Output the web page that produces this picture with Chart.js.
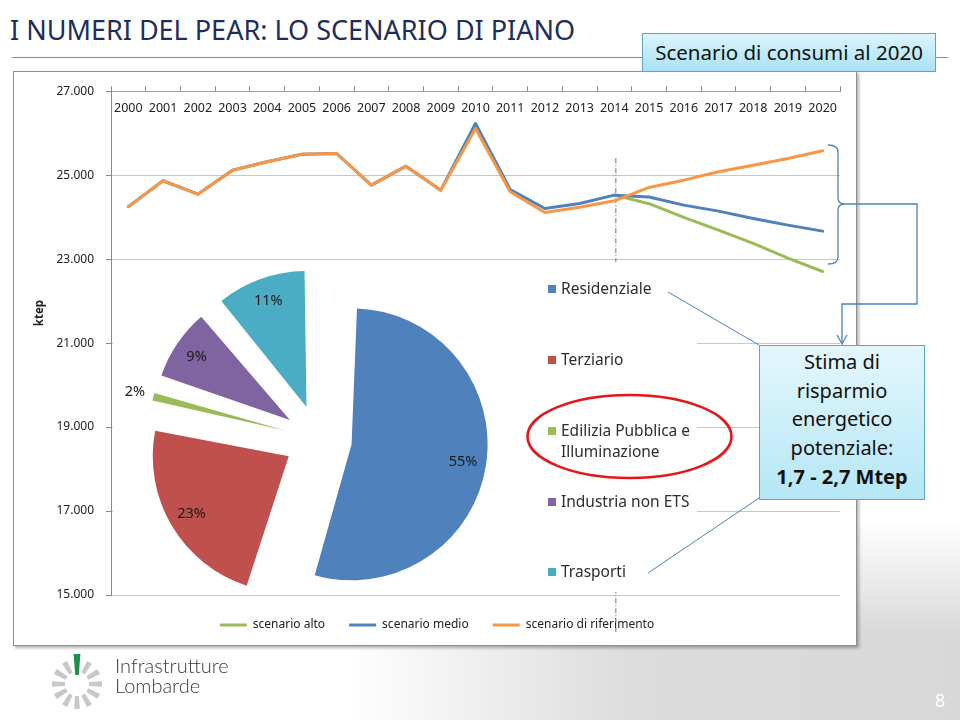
<!DOCTYPE html>
<html lang="it">
<head>
<meta charset="utf-8">
<title>I numeri del PEAR: lo scenario di piano</title>
<script src="https://cdn.jsdelivr.net/npm/chart.js@4.4.1/dist/chart.umd.min.js"></script>
<style>
  html, body { margin: 0; padding: 0; }
  body { width: 960px; height: 720px; position: relative; overflow: hidden; background: #fff; font-family: "Noto Sans", sans-serif; }
  .abs { position: absolute; }
  #footerBg { left: 0; top: 636px; width: 960px; height: 84px; background: linear-gradient(90deg, #fff 0%, #fff 36%, #dcdcdc 66%, #d8d8d8 100%); }
  #sideBg { left: 857px; top: 520px; width: 103px; height: 116px; background: linear-gradient(180deg, rgba(216,216,216,0) 0%, #d8d8d8 100%); }
  #title { left: 10px; top: 16px; font-size: 27px; line-height: 27px; color: #1f2d5a; white-space: nowrap; }
  #rule { left: 12px; top: 57px; width: 936px; height: 0; border-top: 1.5px solid #8a8a8a; }
  #chartFrame { left: 13px; top: 71px; width: 842px; height: 573px; border: 1px solid #8f8f8f; box-shadow: 2px 2px 3px rgba(0,0,0,0.3); background: #fff; }
  #lineChart { left: 14px; top: 72px; }
  #pieChart { left: 113px; top: 262px; background: #fff; }
  .pieItem { position: absolute; left: 548px; font-size: 15.5px; line-height: 21.6px; color: #2e2e2e; white-space: nowrap; }
  .pieItem .sw { position: absolute; left: 0; top: 7px; width: 8px; height: 8px; }
  .pieItem .tx { display: block; margin-left: 13px; }
  #notes { left: 0; top: 0; }
  #header { left: 642px; top: 33px; width: 292px; height: 37px; border: 1px solid #58a7c6; background: linear-gradient(180deg, #dcf5fd 0%, #a9e1f4 100%); font-size: 20.5px; line-height: 37px; text-align: center; color: #111; white-space: nowrap; }
  #callout { left: 759px; top: 345px; width: 164px; height: 151px; border: 1px solid #58a7c6; background: linear-gradient(180deg, #e4f7fd 0%, #b5e6f6 100%); font-size: 20px; line-height: 28.7px; text-align: center; color: #111; padding-top: 2px; box-sizing: content-box; }
  #callout b { font-weight: 700; }
  #logo { left: 47px; top: 654px; }
  #brand { left: 115px; top: 656px; font-family: Lato, "Noto Sans", sans-serif; font-weight: 300; font-size: 20px; line-height: 19.5px; color: #3a3a3a; }
  #pageNo { left: 935px; top: 688px; font-size: 18px; line-height: 24px; color: #fff; }
</style>
</head>
<body>
<div id="footerBg" class="abs"></div>
<div id="sideBg" class="abs"></div>
<div id="title" class="abs">I NUMERI DEL PEAR: LO SCENARIO DI PIANO</div>
<div id="rule" class="abs"></div>
<div id="chartFrame" class="abs"></div>
<canvas id="lineChart" class="abs" width="842" height="573"></canvas>
<canvas id="pieChart" class="abs" width="584" height="330"></canvas>
<div id="pieLegend"></div>

<svg id="notes" class="abs" width="960" height="720" viewBox="0 0 960 720">
  <g fill="none" stroke="#4f81bd" stroke-width="1.3">
    <!-- graffa sugli scenari 2020 -->
    <path d="M828,145 Q838,145 838,152 L838,198 Q838,204 845,204 Q838,204 838,210 L838,257 Q838,264 828,264"/>
    <polyline points="845,204 917,204 917,304 842,304 842,344"/>
    <polyline points="837,335 842,344 847,335"/>
    <!-- collegamenti alla torta -->
    <line x1="668" y1="292" x2="759" y2="345" stroke-width="1"/>
    <line x1="648" y1="573" x2="759" y2="498" stroke-width="1"/>
  </g>
  <ellipse cx="629.5" cy="436.5" rx="102" ry="41.5" fill="none" stroke="#e3171c" stroke-width="2.6"/>
</svg>

<div id="header" class="abs">Scenario di consumi al 2020</div>
<div id="callout" class="abs">Stima di<br>risparmio<br>energetico<br>potenziale:<br><b>1,7 - 2,7 Mtep</b></div>

<canvas id="logo" class="abs" width="60" height="60"></canvas>
<div id="brand" class="abs">Infrastrutture<br>Lombarde</div>
<div id="pageNo" class="abs">8</div>

<script>
// Dati scenario consumi (ktep)
const years = ['2000', '2001', '2002', '2003', '2004', '2005', '2006', '2007', '2008', '2009', '2010',
               '2011', '2012', '2013', '2014', '2015', '2016', '2017', '2018', '2019', '2020'];
const scenarioAlto = [null, null, null, null, null, null, null, null, null, null, null,
                      null, null, null, 24524, 24320, 23993, 23690, 23375, 23024, 22705];
const scenarioMedio = [24250, 24867, 24548, 25119, 25319, 25500, 25516, 24762, 25214, 24643, 26230,
                       24660, 24207, 24326, 24524, 24480, 24286, 24143, 23969, 23810, 23667];
const scenarioRiferimento = [24250, 24867, 24548, 25119, 25319, 25500, 25516, 24762, 25214, 24643, 26110,
                             24605, 24112, 24238, 24390, 24707, 24881, 25080, 25238, 25397, 25580];
const yTicks = [15000, 17000, 19000, 21000, 23000, 25000, 27000];
const markerYear = '2014';

// Ripartizione consumi per settore (%)
const pieLabels = ['Residenziale', 'Terziario', ['Edilizia Pubblica e', 'Illuminazione'], 'Industria non ETS', 'Trasporti'];
const pieShares = [55, 23, 2, 9, 11];

const colors = {
    alto: '#9bbb59',
    medio: '#4f81bd',
    riferimento: '#f79646'
};
const pieColors = ['#4f81bd', '#c0504d', '#9bbb59', '#8064a2', '#4bacc6'];

const FONT = '"Noto Sans", sans-serif';
const PIE_RADIUS = 136;
const PIE_EXPLODE = 34; // px, slice shift like the Excel exploded pie

function formatThousands(v) {
    return String(v).replace(/\B(?=(\d{3})+(?!\d))/g, '.');
}

// Year labels under the top axis, "ktep" title and the 2014 marker
const lineDecor = {
    id: 'lineDecor',
    beforeDatasetsDraw: function(chart) {
        const ctx = chart.ctx;
        const area = chart.chartArea;
        const x = chart.scales.x.getPixelForValue(years.indexOf(markerYear));
        ctx.save();
        ctx.strokeStyle = '#5a7394';
        ctx.lineWidth = 1;
        ctx.setLineDash([5, 2, 1, 2]);
        ctx.beginPath();
        ctx.moveTo(x + 1.5, area.top + 67);
        ctx.lineTo(x + 1.5, area.bottom + 37);
        ctx.stroke();
        ctx.restore();
    },
    afterDraw: function(chart) {
        const ctx = chart.ctx;
        const xs = chart.scales.x;
        const area = chart.chartArea;
        ctx.save();
        ctx.fillStyle = '#222';
        ctx.font = '12.5px ' + FONT;
        ctx.textAlign = 'center';
        ctx.textBaseline = 'middle';
        years.forEach(function(y, i) {
            ctx.fillText(y, xs.getPixelForValue(i), area.top + 17);
        });
        ctx.translate(26, 241);
        ctx.rotate(-Math.PI / 2);
        ctx.font = 'bold 11.5px ' + FONT;
        ctx.fillStyle = '#222';
        ctx.fillText('ktep', 0, 0);
        ctx.restore();
    }
};

new Chart(document.getElementById('lineChart'), {
    type: 'line',
    data: {
        labels: years,
        datasets: [
            { label: 'scenario alto', data: scenarioAlto, borderColor: colors.alto, backgroundColor: colors.alto, order: 3 },
            { label: 'scenario medio', data: scenarioMedio, borderColor: colors.medio, backgroundColor: colors.medio, order: 2 },
            { label: 'scenario di riferimento', data: scenarioRiferimento, borderColor: colors.riferimento, backgroundColor: colors.riferimento, order: 1 }
        ]
    },
    options: {
        responsive: false,
        animation: false,
        events: [],
        spanGaps: false,
        layout: { padding: { left: 20, top: 0, right: 16, bottom: 4 } },
        elements: {
            line: { borderWidth: 3, tension: 0, borderCapStyle: 'round', borderJoinStyle: 'round' },
            point: { radius: 0, hoverRadius: 0 }
        },
        scales: {
            x: {
                position: 'top',
                offset: true,
                afterFit: function(scale) { scale.height = 16; },
                grid: { display: true, drawOnChartArea: false, offset: true, tickLength: 5, color: '#8a8a8a' },
                border: { display: true, color: '#a0a0a0', width: 1 },
                ticks: { display: false }
            },
            y: {
                min: yTicks[0],
                max: yTicks[yTicks.length - 1],
                afterBuildTicks: function(scale) {
                    scale.ticks = yTicks.map(function(v) { return { value: v }; });
                },
                afterFit: function(scale) { scale.width = 77; },
                grid: { color: '#c8c8c8', tickLength: 5, tickColor: '#8a8a8a' },
                border: { display: true, color: '#8a8a8a', width: 1 },
                ticks: {
                    padding: 12,
                    color: '#222',
                    font: { family: FONT, size: 12 },
                    callback: function(v) { return formatThousands(v); }
                }
            }
        },
        plugins: {
            tooltip: { enabled: false },
            legend: {
                position: 'bottom',
                labels: {
                    boxWidth: 27,
                    boxHeight: 3,
                    padding: 24,
                    color: '#222',
                    font: { family: FONT, size: 12 },
                    sort: function(a, b) { return a.datasetIndex - b.datasetIndex; },
                    generateLabels: function(chart) {
                        return Chart.defaults.plugins.legend.labels.generateLabels(chart).map(function(item) {
                            item.fillStyle = item.strokeStyle;
                            item.lineWidth = 0;
                            return item;
                        });
                    }
                }
            }
        }
    },
    plugins: [lineDecor]
});

// Chart.js grows the radius of exploded slices; pull it back so every
// slice keeps the same radius, as in the original exploded pie
const excelExplode = {
    id: 'excelExplode',
    beforeDatasetsDraw: function(chart) {
        const meta = chart.getDatasetMeta(0);
        const base = meta.controller.outerRadius;
        meta.data.forEach(function(arc) {
            const circ = arc.endAngle - arc.startAngle;
            const fix = 1 - Math.sin(Math.min(Math.PI, circ));
            arc.outerRadius = base - PIE_EXPLODE * fix;
        });
    }
};

// Percent labels on the exploded pie
const pieValueLabels = {
    id: 'pieValueLabels',
    afterDatasetsDraw: function(chart) {
        const ctx = chart.ctx;
        const meta = chart.getDatasetMeta(0);
        ctx.save();
        ctx.font = '14.5px ' + FONT;
        ctx.fillStyle = '#1a1a1a';
        ctx.textAlign = 'center';
        ctx.textBaseline = 'middle';
        meta.data.forEach(function(arc, i) {
            const mid = (arc.startAngle + arc.endAngle) / 2;
            const f = pieShares[i] < 5 ? 1.14 : 0.83;
            const r = PIE_EXPLODE + PIE_RADIUS * f;
            ctx.fillText(pieShares[i] + '%', arc.x + Math.cos(mid) * r, arc.y + Math.sin(mid) * r);
        });
        ctx.restore();
    }
};

new Chart(document.getElementById('pieChart'), {
    type: 'pie',
    data: {
        labels: pieLabels,
        datasets: [{
            data: pieShares,
            backgroundColor: pieColors,
            borderWidth: 0,
            offset: PIE_EXPLODE * 4, // arc draws offset / 4
            radius: PIE_RADIUS
        }]
    },
    options: {
        responsive: false,
        animation: false,
        events: [],
        layout: { padding: { left: 0, top: 24, right: 174, bottom: 0 } },
        plugins: { legend: { display: false }, tooltip: { enabled: false } }
    },
    plugins: [excelExplode, pieValueLabels]
});

// Legend of the pie, drawn as HTML next to it
const pieLegend = document.getElementById('pieLegend');
pieLabels.forEach(function(label, i) {
    const item = document.createElement('div');
    item.className = 'pieItem';
    item.style.top = (278.2 + i * 70.8) + 'px';
    const sw = document.createElement('span');
    sw.className = 'sw';
    sw.style.background = pieColors[i];
    const tx = document.createElement('span');
    tx.className = 'tx';
    tx.innerHTML = [].concat(label).join('<br>');
    item.appendChild(sw);
    item.appendChild(tx);
    pieLegend.appendChild(item);
});

// Logo Infrastrutture Lombarde
(function drawLogo() {
    const c = document.getElementById('logo').getContext('2d');
    c.translate(30, 30);
    for (let i = 0; i < 12; i++) {
        c.save();
        c.rotate(i * Math.PI / 6);
        c.beginPath();
        if (i === 0) {
            c.fillStyle = '#13944a';
            c.moveTo(-1.8, -9); c.lineTo(1.8, -9); c.lineTo(3.6, -33); c.lineTo(-3.6, -33);
        } else {
            c.fillStyle = '#c8c8c8';
            c.moveTo(-2, -12); c.lineTo(2, -12); c.lineTo(2.8, -25); c.lineTo(-2.8, -25);
        }
        c.closePath();
        c.fill();
        c.restore();
    }
})();
</script>
</body>
</html>
